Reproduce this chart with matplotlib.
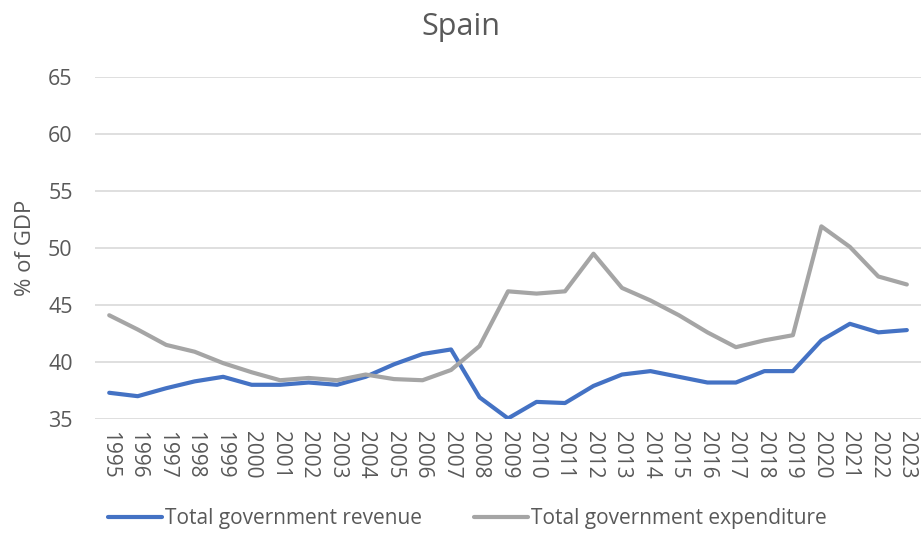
import matplotlib
matplotlib.use("Agg")
import matplotlib.pyplot as plt
import numpy as np

years = [str(y) for y in range(1995, 2024)]
revenue = [37.3, 37.0, 37.7, 38.3, 38.7, 38.0, 38.0, 38.2, 38.0, 38.7,
           39.8, 40.7, 41.1, 36.9, 35.05, 36.5, 36.4, 37.9, 38.9, 39.2,
           38.7, 38.2, 38.2, 39.2, 39.2, 41.9, 43.35, 42.6, 42.8]
expenditure = [44.1, 42.85, 41.5, 40.9, 39.9, 39.1, 38.4, 38.6, 38.4, 38.9,
               38.5, 38.4, 39.3, 41.4, 46.2, 46.0, 46.2, 49.5, 46.5, 45.4,
               44.1, 42.6, 41.3, 41.9, 42.35, 51.9, 50.1, 47.5, 46.8]
yticks = [35, 40, 45, 50, 55, 60, 65]

plt.rcParams["font.family"] = ["Open Sans", "DejaVu Sans"]
grey_text = "#595959"

fig = plt.figure(figsize=(9.22, 5.36), dpi=100)
ax = fig.add_axes([0.103, 0.2183, 0.896, 0.638])

x = np.arange(len(years))
ax.plot(x, revenue, color="#4472C4", lw=3.0, solid_capstyle="round",
        label="Total government revenue")
ax.plot(x, expenditure, color="#A5A5A5", lw=3.0, solid_capstyle="round",
        label="Total government expenditure")

ax.set_xlim(-0.5, len(years) - 0.5)
ax.set_ylim(35, 65)
ax.set_yticks(yticks)
ax.set_xticks(x)
ax.set_xticklabels(years, rotation=-90, fontsize=15, color=grey_text)
ax.tick_params(axis="y", length=0, pad=16, labelsize=15.5, labelcolor=grey_text)
ax.tick_params(axis="x", length=0, pad=9)
ax.grid(axis="y", color="#D9D9D9", lw=1.2)
ax.set_axisbelow(True)
for s in ax.spines.values():
    s.set_visible(False)

ax.set_ylabel("% of GDP", fontsize=16, color=grey_text, labelpad=9)
# baseline placed explicitly: Open Sans has a tall ascent box
fig.text(0.5, 0.935, "Spain", fontsize=22, color=grey_text,
         ha="center", va="baseline")

fig.legend(loc="center", bbox_to_anchor=(0.507, 0.032), ncol=2,
           frameon=False, fontsize=15, handlelength=2.6, columnspacing=2.5,
           handletextpad=0.15, labelcolor=grey_text)

fig.savefig("out.png", dpi=100)
